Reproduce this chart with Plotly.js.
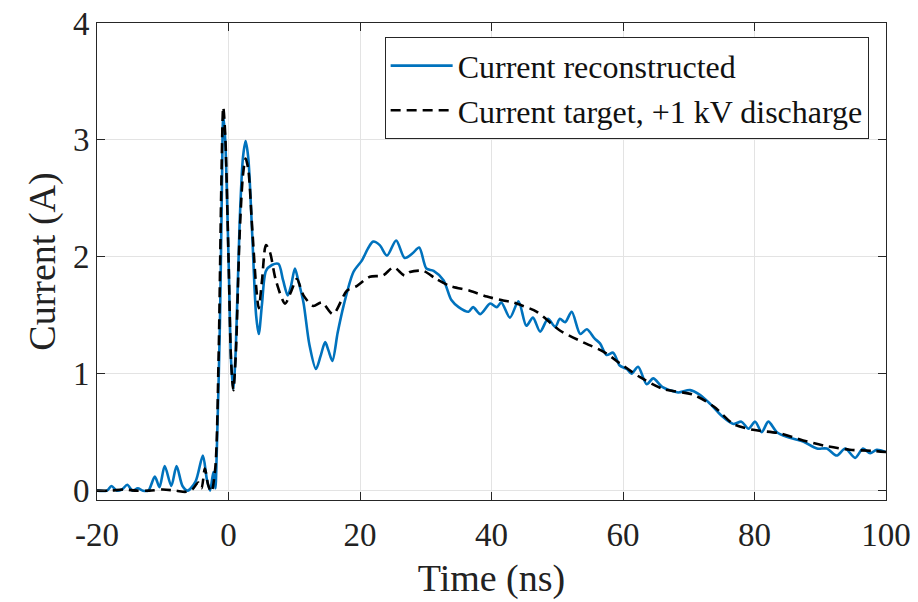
<!DOCTYPE html>
<html>
<head>
<meta charset="utf-8">
<script src="https://cdn.plot.ly/plotly-3.0.1.min.js"></script>
<style>html,body{margin:0;padding:0;background:#fff;}#chart{width:918px;height:602px;}</style>
</head>
<body>
<div id="chart"></div>
<script>
// Reconstructed current (blue)
const tRecon = [-20,-18.5,-17.8,-17.0,-16.2,-15.4,-14.6,-13.8,-13.0,-12.2,-11.2,-10.5,-9.7,-8.7,-7.9,-7.0,-6.2,-5.0,-3.9,-3.3,-2.8,-2.3,-2.0,-1.8,-1.3,-1.0,-0.8,-0.5,0.0,0.4,0.73,1.1,1.7,2.2,2.6,3.0,3.6,4.2,4.6,5.1,5.7,6.6,7.6,8.3,9.0,9.5,10.1,10.6,11.4,12.3,13.3,14.0,14.7,15.2,15.8,16.6,17.5,19.0,20.3,21.2,22.0,23.0,24.1,25.5,26.8,28.0,29.0,30.1,31.2,32.7,33.9,35.0,36.5,37.2,38.3,39.8,40.8,41.5,42.8,44.1,45.3,46.3,47.4,48.6,49.7,50.4,51.2,52.2,53.5,54.5,55.7,56.5,57.5,58.5,59.5,60.6,61.3,62.3,63.6,64.6,65.9,67.1,68.4,70.2,71.7,73.3,75.0,76.8,78.0,79.1,80.1,81.1,82.1,83.4,84.9,86.2,87.4,89.5,91.0,92.5,93.8,95.3,96.5,97.6,98.6,100];
const iRecon = [0.0,0.0,0.04,0.0,0.01,0.05,0.0,0.02,0.0,0.0,0.12,0.03,0.21,0.04,0.21,0.04,0.0,0.08,0.30,0.10,0.0,0.16,0.02,0.30,1.44,2.6,3.21,3.0,2.0,1.1,0.87,1.2,2.3,2.85,2.99,2.85,2.2,1.5,1.34,1.6,1.88,1.93,1.94,1.80,1.67,1.75,1.90,1.80,1.61,1.25,1.04,1.15,1.27,1.20,1.11,1.35,1.58,1.87,1.97,2.07,2.13,2.10,2.01,2.14,1.99,2.03,2.08,1.90,1.88,1.80,1.63,1.57,1.53,1.57,1.51,1.60,1.57,1.61,1.48,1.62,1.41,1.48,1.36,1.47,1.40,1.47,1.44,1.53,1.34,1.38,1.30,1.26,1.16,1.18,1.07,1.04,1.00,1.06,0.91,0.96,0.89,0.86,0.84,0.86,0.82,0.74,0.64,0.57,0.59,0.53,0.59,0.50,0.59,0.50,0.46,0.44,0.42,0.36,0.36,0.30,0.36,0.28,0.36,0.32,0.35,0.33];

// Target current, +1 kV discharge (black dashed)
const tTarget = [-20,-18,-16,-14,-12,-10,-8,-6.5,-5.5,-4.6,-4.1,-3.6,-3.1,-2.6,-2.0,-1.5,-1.1,-0.8,-0.5,0.0,0.4,0.73,1.1,1.7,2.2,2.6,3.0,3.6,4.2,4.6,5.1,5.7,6.3,7.2,8.6,9.5,10.4,11.4,12.9,14.2,15.9,18.0,19.5,21.5,23.5,25.1,26.8,27.6,29.6,31.6,33.7,36.7,39.3,41.5,43.3,44.8,46.9,50.4,53.9,57.0,59.5,62.6,66.1,70.7,73.8,76.8,79.8,83.9,87.4,91.0,94.5,98.1,100];
const iTarget = [0.0,0.0,0.01,0.0,0.0,0.01,0.0,-0.01,0.01,0.07,0.02,0.19,0.05,-0.01,0.2,1.16,2.58,3.28,3.05,2.0,1.1,0.86,1.15,2.2,2.7,2.84,2.75,2.25,1.75,1.56,1.80,2.10,2.04,1.80,1.60,1.70,1.81,1.67,1.58,1.61,1.51,1.71,1.75,1.83,1.84,1.91,1.84,1.87,1.88,1.81,1.75,1.71,1.66,1.63,1.61,1.58,1.53,1.37,1.27,1.19,1.09,0.97,0.87,0.82,0.72,0.57,0.52,0.49,0.43,0.38,0.35,0.34,0.33];

const xTicks = [-20,0,20,40,60,80,100];
const yTicks = [0,1,2,3,4];
const seriesNames = ['Current reconstructed','Current target, +1 kV discharge'];

const font = 'Liberation Serif, Times New Roman, serif';
const axisCol = '#262626';

const traces = [
  {x: tRecon, y: iRecon, type: 'scatter', mode: 'lines', name: seriesNames[0],
   line: {color: '#0072BD', width: 2.6, shape: 'spline', smoothing: 0.8}},
  {x: tTarget, y: iTarget, type: 'scatter', mode: 'lines', name: seriesNames[1],
   line: {color: '#000000', width: 2.6, dash: '10px,6px', shape: 'spline', smoothing: 0.8}}
];

const layout = {
  width: 918, height: 602,
  margin: {l: 97, r: 32, t: 23, b: 102, pad: 0},
  paper_bgcolor: '#fff', plot_bgcolor: '#fff',
  font: {family: font, color: axisCol, size: 33},
  showlegend: true,
  legend: {
    x: 0.978, y: 0.97, xanchor: 'right', yanchor: 'top',
    bgcolor: '#fff', bordercolor: axisCol, borderwidth: 1,
    font: {family: font, size: 32, color: '#111'},
    itemwidth: 62, tracegroupgap: 0
  },
  xaxis: {
    range: [-20, 100], tickvals: xTicks, ticktext: xTicks.map(String),
    ticks: 'inside', ticklen: 8, tickwidth: 1, tickcolor: axisCol,
    showline: true, linecolor: axisCol, linewidth: 1, mirror: 'ticks',
    showgrid: true, gridcolor: '#e3e3e3', gridwidth: 1, zeroline: false,
    ticklabelstandoff: 5,
    tickfont: {family: font, size: 33, color: '#222'},
    title: {text: 'Time (ns)', font: {family: font, size: 38, color: '#222'}, standoff: 12}
  },
  yaxis: {
    range: [-0.08, 4], tickvals: yTicks, ticktext: yTicks.map(String),
    ticks: 'inside', ticklen: 8, tickwidth: 1, tickcolor: axisCol,
    showline: true, linecolor: axisCol, linewidth: 1, mirror: 'ticks',
    showgrid: true, gridcolor: '#e3e3e3', gridwidth: 1, zeroline: false,
    tickfont: {family: font, size: 33, color: '#222'},
    title: {text: 'Current (A)', font: {family: font, size: 38, color: '#222'}, standoff: 5}
  }
};

Plotly.newPlot('chart', traces, layout, {staticPlot: true, displayModeBar: false});
</script>
</body>
</html>
